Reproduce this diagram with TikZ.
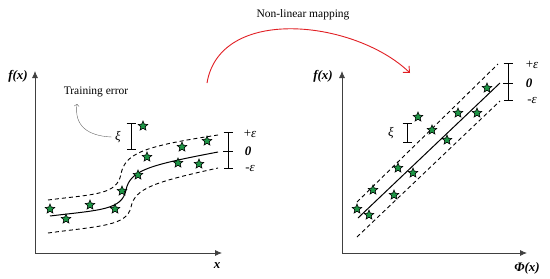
\documentclass[tikz,border=0pt]{standalone}
\usepackage{fontspec}
\setmainfont{Liberation Serif}
\usetikzlibrary{shapes.geometric,arrows.meta}
\definecolor{stargreen}{RGB}{30,150,70}
\definecolor{maparc}{RGB}{225,30,35}
\tikzset{
  pt/.style={draw,star,star points=5,star point ratio=2.2,fill=stargreen,minimum size=10pt,inner sep=0pt,line width=0.6pt},
  band/.style={line width=0.9pt,dash pattern=on 4pt off 3pt},
  fit/.style={line width=1pt},
  errbar/.style={{Bar[width=9pt]}-{Bar[width=9pt]},line width=0.7pt},
  ax/.style={-{Latex[length=7pt,width=6pt]},line width=0.8pt,black!75},
  bandlbl/.style={font=\fontsize{13}{15}\selectfont}
}

\begin{document}
\begin{tikzpicture}[x=1pt,y=-1pt,font=\fontsize{11.5}{13}\selectfont]
  \useasboundingbox (0,0) rectangle (550,279);

  % input space
  \coordinate (O1) at (35,253);
  \coordinate (Y1) at (35,71);
  \coordinate (X1) at (222,253);
  \draw[ax] (O1) -- (Y1);
  \draw[ax] (O1) -- (X1);
  \node[bandlbl] (fx1) at (18,76) {\textbf{\textit{f(x)}}};
  \node[bandlbl] (x1) at (217,266) {\textbf{\textit{x}}};

  \draw[band] (48,200) .. controls (95,194) and (117,195) .. (121,174)
              .. controls (125,153) and (145,146) .. (218,135);
  \draw[fit]  (50,216) .. controls (100,210) and (122,210) .. (126,190)
              .. controls (130,170) and (150,165) .. (218,152);
  \draw[band] (48,233) .. controls (100,226) and (127,226) .. (131,207)
              .. controls (135,188) and (155,182) .. (218,168);

  \node[pt] (a1) at (50,209) {};  \node[pt] (a2) at (66,219) {};
  \node[pt] (a3) at (90,205) {};  \node[pt] (a4) at (115,209) {};
  \node[pt] (a5) at (122,191) {}; \node[pt] (a6) at (138,175) {};
  \node[pt] (a7) at (147,157) {}; \node[pt] (a8) at (178,163) {};
  \node[pt] (a9) at (182,147) {}; \node[pt] (a10) at (199,164) {};
  \node[pt] (a11) at (207,141) {}; \node[pt] (a12) at (143,126) {};

  \coordinate (ep1t) at (228,132);
  \coordinate (ep1b) at (228,169);
  \draw[errbar] (ep1t) -- (ep1b);
  \draw[line width=0.7pt] (223,151) -- (233,151);
  \node[bandlbl] (pe1) at (250,134) {+\textit{ε}};
  \node[bandlbl] (ze1) at (248,151) {\textbf{\textit{0}}};
  \node[bandlbl] (me1) at (250,168) {-\textit{ε}};

  \coordinate (xi1t) at (131,123);
  \coordinate (xi1b) at (131,150);
  \draw[errbar] (xi1t) -- (xi1b);
  \node[bandlbl] (xi1) at (118,137) {\textit{ξ}};

  \node (te) at (96,92) {Training error};
  \coordinate (tetip) at (77,104);
  \draw[->,black!60,thin] (xi1.west) .. controls (88,136) and (74,126) .. (tetip);

  % feature space
  \coordinate (O2) at (342,253);
  \coordinate (Y2) at (342,71);
  \coordinate (X2) at (527,253);
  \draw[ax] (O2) -- (Y2);
  \draw[ax] (O2) -- (X2);
  \node[bandlbl] (fx2) at (323,76) {\textbf{\textit{f(x)}}};
  \node[bandlbl] (phi) at (527,268) {\textbf{\textit{Φ(x)}}};

  \coordinate (u1) at (357,202); \coordinate (u2) at (498,64);
  \coordinate (c1) at (358,218); \coordinate (c2) at (500,83);
  \coordinate (l1) at (357,237); \coordinate (l2) at (500,101);
  \draw[band] (u1) -- (u2);
  \draw[fit]  (c1) -- (c2);
  \draw[band] (l1) -- (l2);

  \node[pt] (b1) at (357,209) {};  \node[pt] (b2) at (369,215) {};
  \node[pt] (b3) at (373,190) {};  \node[pt] (b4) at (394,195) {};
  \node[pt] (b5) at (398,168) {};  \node[pt] (b6) at (413,173) {};
  \node[pt] (b7) at (418,117) {};  \node[pt] (b8) at (432,130) {};
  \node[pt] (b9) at (447,140) {};  \node[pt] (b10) at (458,113) {};
  \node[pt] (b11) at (477,113) {}; \node[pt] (b12) at (487,88) {};

  \coordinate (ep2t) at (508,63);
  \coordinate (ep2b) at (508,101);
  \draw[errbar] (ep2t) -- (ep2b);
  \draw[line width=0.7pt] (503,83) -- (513,83);
  \node[bandlbl] (pe2) at (532,65) {+\textit{ε}};
  \node[bandlbl] (ze2) at (529,83) {\textbf{\textit{0}}};
  \node[bandlbl] (me2) at (532,100) {-\textit{ε}};

  \coordinate (xi2t) at (407,123);
  \coordinate (xi2b) at (407,143);
  \draw[errbar] (xi2t) -- (xi2b);
  \node[bandlbl] (xi2) at (391,133) {\textit{ξ}};

  % mapping
  \coordinate (ms) at (207,83);
  \coordinate (me) at (410,73);
  \node (map) at (303,15) {Non-linear mapping};
  \draw[-{Straight Barb[length=5pt,width=9pt]},maparc,line width=0.9pt]
    (ms) .. controls (220,5) and (355,20) .. (me);

\end{tikzpicture}
\end{document}
